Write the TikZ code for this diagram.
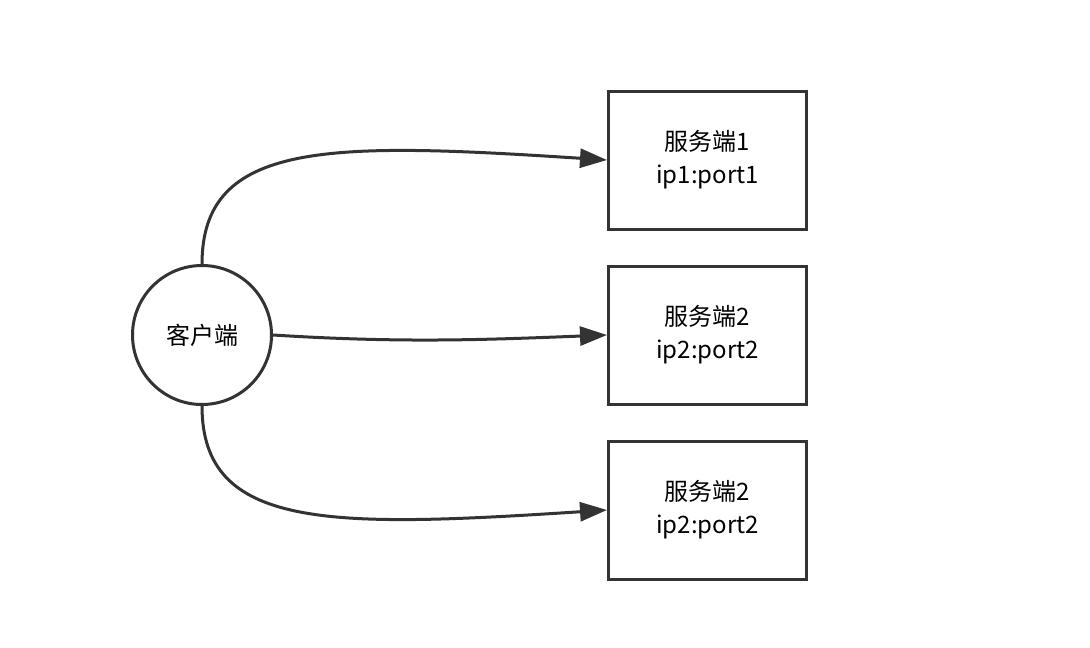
\documentclass[tikz,border=0pt]{standalone}
\usepackage{fontspec}
\setmainfont{Noto Sans CJK SC}
\usetikzlibrary{arrows.meta}
\definecolor{ink}{HTML}{333333}
\begin{document}
\begin{tikzpicture}[x=1pt,y=-1pt,
  server/.style={draw=ink,line width=3pt,minimum width=198pt,minimum height=138pt,align=center,inner sep=0pt,font=\fontsize{24pt}{33pt}\selectfont,text=black},
  client/.style={draw=ink,line width=3pt,circle,minimum size=139pt,inner sep=0pt,font=\fontsize{24pt}{28pt}\selectfont,text=black},
  link/.style={draw=ink,line width=3pt,-{Triangle[length=27pt,width=19pt]}}]
\useasboundingbox (0,0) rectangle (1090,648);
\node[client] (c) at (202,335) {客户端};
\node[server] (s1) at (707.5,160) {服务端1\\ip1:port1};
\node[server] (s2) at (707.5,335) {服务端2\\ip2:port2};
\node[server] (s3) at (707.5,510) {服务端2\\ip2:port2};
\draw[link] (c.north) .. controls (202,140) and (330,142) .. (s1.west);
\draw[link] (c.east) .. controls (400,343) and (480,340) .. (s2.west);
\draw[link] (c.south) .. controls (202,530) and (330,528) .. (s3.west);
\end{tikzpicture}
\end{document}
